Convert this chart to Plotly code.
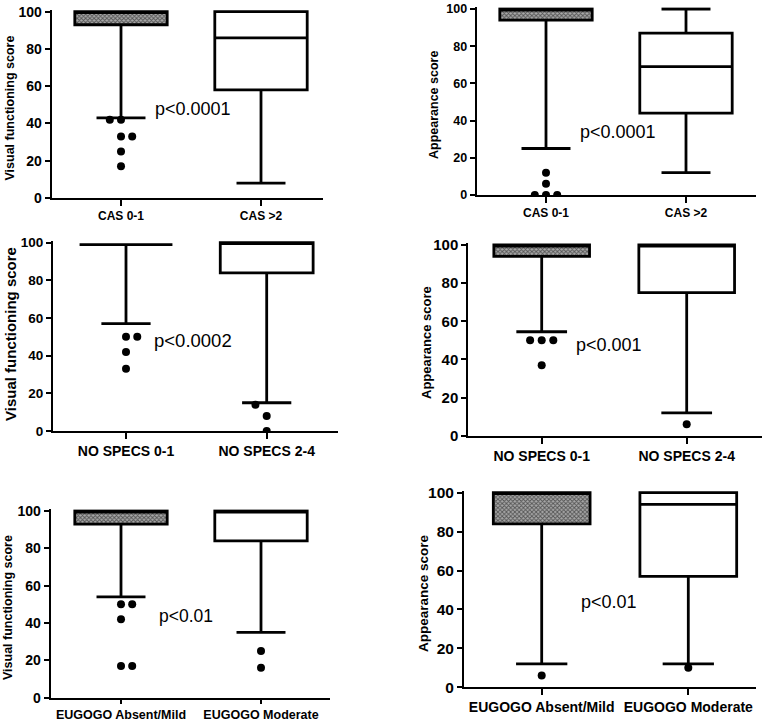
import plotly.graph_objects as go
from plotly.subplots import make_subplots

# --- DATA ---
y_titles = ["Visual functioning score", "Appearance score",
            "Visual functioning score", "Appearance score",
            "Visual functioning score", "Appearance score"]
group_labels = [["CAS 0-1", "CAS >2"], ["CAS 0-1", "CAS >2"],
                ["NO SPECS 0-1", "NO SPECS 2-4"], ["NO SPECS 0-1", "NO SPECS 2-4"],
                ["EUGOGO Absent/Mild", "EUGOGO Moderate"], ["EUGOGO Absent/Mild", "EUGOGO Moderate"]]
p_values = ["p<0.0001", "p<0.0001", "p<0.0002", "p<0.001", "p<0.01", "p<0.01"]

lower_fence = [[43, 8], [25, 12], [57, 15], [54.5, 12], [54, 35], [12, 12]]
q1 = [[93, 58], [94, 44], [99, 84], [94, 75], [93, 84], [84, 57]]
median = [[100, 86], [100, 69], [99, 100], [100, 100], [100, 100], [100, 94]]
q3 = [[100, 100], [100, 87], [99, 100], [100, 100], [100, 100], [100, 100]]
upper_fence = [[100, 100], [100, 100], [99, 100], [100, 100], [100, 100], [100, 100]]

# outliers per panel and group, with the side-by-side slot of each dot
outlier_values = [[[42, 42, 33, 33, 25, 17], []],
                  [[12, 6, 0, 0, 0], []],
                  [[50, 50, 42, 33], [14, 8, 0]],
                  [[50, 50, 50, 37], [6]],
                  [[50, 50, 42, 17, 17], [25, 16]],
                  [[6], [10]]]
outlier_slots = [[[-1, 0, 0, 1, 0, 0], []],
                 [[0, 0, -1, 0, 1], []],
                 [[0, 1, 0, 0], [-1, 0, 0]],
                 [[-1, 0, 1, 0], [0]],
                 [[0, 1, 0, 0, 1], [0, 0]],
                 [[0], [0]]]

# --- LAYOUT (pixel geometry of each panel in the 765x722 page) ---
W, H = 765, 722
geom = [
    dict(x0=51.7, x1=323, y100=11.7, y0=198, c0=121, c1=261, tx=9.5, ty=108, px=153, py=48),
    dict(x0=476.7, x1=755.7, y100=9, y0=195, c0=546, c1=686, tx=434, ty=105, px=578, py=34),
    dict(x0=53, x1=338, y100=242.7, y0=431, c0=126, c1=266.7, tx=10, ty=334, px=152, py=48),
    dict(x0=468.3, x1=762, y100=245, y0=435.7, c0=541.7, c1=686.7, tx=426, ty=343, px=574, py=47.5),
    dict(x0=50.7, x1=330, y100=511, y0=697.7, c0=121, c1=261, tx=8, ty=608, px=157, py=44),
    dict(x0=464, x1=755.7, y100=492.7, y0=687.3, c0=541.7, c1=688.3, tx=423, ty=593, px=579, py=44),
]
title_size = [12.5, 12.5, 15, 13, 12.5, 13.5]
tick_size = [14, 12.5, 13.5, 15, 14, 15.5]
cat_size = [12, 12, 14, 14, 12.5, 14]
cat_ticklen = [6, 6, 6, 6, 4, 6]
p_size = [18, 18, 18.5, 18, 17.5, 18]


def fx(px):
    return min(max(px / W, 0), 1)


def fy(py):
    return min(max(1 - py / H, 0), 1)


FONT = "Liberation Sans, Arial, sans-serif"
BOX_W = 0.66
SLOT = 0.08

fig = make_subplots(rows=3, cols=2)
annotations = []

for i, g in enumerate(geom):
    row, col = i // 2 + 1, i % 2 + 1
    span = g["c1"] - g["c0"]

    # checkered body of the first box
    fig.add_trace(go.Bar(
        x=[0], base=[q1[i][0]], y=[q3[i][0] - q1[i][0]], width=[BOX_W],
        marker=dict(color="white", line=dict(width=0),
                    pattern=dict(shape="x", size=3, solidity=0.5,
                                 fgcolor="black", bgcolor="#a8a8a8")),
        showlegend=False, hoverinfo="skip"
    ), row=row, col=col)

    for j in range(2):
        fig.add_trace(go.Box(
            x=[j], q1=[q1[i][j]], median=[median[i][j]], q3=[q3[i][j]],
            lowerfence=[lower_fence[i][j]], upperfence=[upper_fence[i][j]],
            width=BOX_W, whiskerwidth=0.53, boxpoints=False,
            fillcolor="rgba(0,0,0,0)" if j == 0 else "white",
            line=dict(color="black", width=2.8), showlegend=False
        ), row=row, col=col)

        vals = outlier_values[i][j]
        if vals:
            fig.add_trace(go.Scatter(
                x=[j + s * SLOT for s in outlier_slots[i][j]], y=vals,
                mode="markers", marker=dict(color="black", size=8),
                showlegend=False
            ), row=row, col=col)

    xr = [-(g["c0"] - g["x0"]) / span, 1 + (g["x1"] - g["c1"]) / span]
    # a little head room above 100 so the box tops are not clipped
    top_px = max(g["y100"] - (g["y0"] - g["y100"]) * 0.01, 0)
    ytop = 100 * (g["y0"] - top_px) / (g["y0"] - g["y100"])
    fig.update_xaxes(
        domain=[fx(g["x0"]), fx(g["x1"])], range=xr, automargin=False,
        tickvals=[0, 1], ticktext=group_labels[i],
        tickfont=dict(family=FONT, size=cat_size[i], color="black", weight="bold"),
        showline=True, linewidth=2, linecolor="black", showgrid=False, zeroline=False,
        ticks="outside", ticklen=cat_ticklen[i], tickwidth=2, tickcolor="black",
        row=row, col=col)
    fig.update_yaxes(
        domain=[fy(g["y0"]), fy(top_px)], range=[0, ytop], automargin=False,
        tickvals=[0, 20, 40, 60, 80, 100],
        tickfont=dict(family=FONT, size=tick_size[i], color="black", weight="bold"),
        showline=True, linewidth=2, linecolor="black", showgrid=False, zeroline=False,
        ticks="outside", ticklen=5, tickwidth=2, tickcolor="black",
        row=row, col=col)

    # y-axis title
    annotations.append(dict(
        text=y_titles[i], xref="paper", yref="paper", x=fx(g["tx"]), y=fy(g["ty"]),
        xanchor="center", yanchor="middle", textangle=-90, showarrow=False,
        font=dict(family=FONT, size=title_size[i], color="black", weight="bold")))

    # p-value label
    sfx = "" if i == 0 else str(i + 1)
    annotations.append(dict(
        text=p_values[i], xref="x" + sfx, yref="y" + sfx,
        x=(g["px"] - g["c0"]) / span, y=g["py"],
        xanchor="left", yanchor="middle", showarrow=False,
        font=dict(family=FONT, size=p_size[i], color="black")))

fig.update_layout(
    width=W, height=H,
    margin=dict(l=0, r=0, t=0, b=0, autoexpand=False),
    paper_bgcolor="white", plot_bgcolor="white",
    showlegend=False, barmode="overlay",
    annotations=annotations,
)

# drop the browser's default 8px page margin so the figure fills the window
fig.write_html("out.html", config={"displayModeBar": False},
               post_script="document.body.style.margin = '0';")
